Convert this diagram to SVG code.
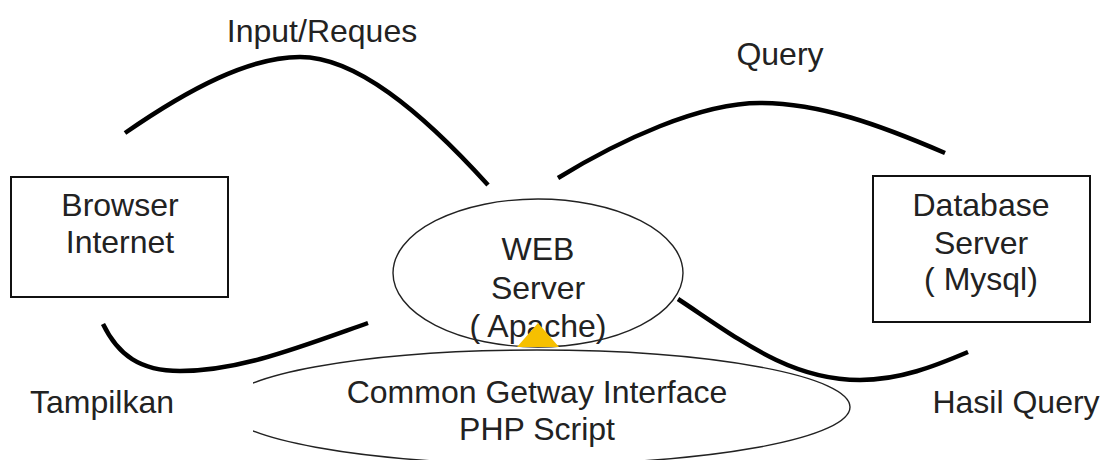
<svg xmlns="http://www.w3.org/2000/svg" width="1108" height="460" viewBox="0 0 1108 460">
<defs>
<style>
.t{font-family:"Liberation Sans",Arial,sans-serif;font-size:32px;fill:#222;text-anchor:middle}
.box{fill:#fff;stroke:#111;stroke-width:2}
.ell{fill:#fff;stroke:#222;stroke-width:1.4}
.con{fill:none;stroke:#000;stroke-width:4.5;stroke-linecap:butt}
</style>
<clipPath id="cgiClip"><rect x="253" y="0" width="855" height="460"/></clipPath>
</defs>
<rect width="1108" height="460" fill="#fff"/>

<g id="browser">
<rect class="box" x="11" y="177" width="217" height="120"/>
<text class="t" x="120" y="216">Browser</text>
<text class="t" x="120" y="253">Internet</text>
</g>

<g id="database">
<rect class="box" x="873" y="176" width="217" height="146"/>
<text class="t" x="981" y="216">Database</text>
<text class="t" x="981" y="254">Server</text>
<text class="t" x="981" y="290">( Mysql)</text>
</g>

<g id="webserver">
<ellipse class="ell" cx="538" cy="273" rx="145" ry="74"/>
<text class="t" x="538" y="260">WEB</text>
<text class="t" x="538" y="299">Server</text>
<text class="t" x="538" y="337">( Apache)</text>
</g>

<g id="cgi">
<ellipse class="ell" cx="537" cy="407" rx="313" ry="57" style="fill:none" clip-path="url(#cgiClip)"/>
<text class="t" x="537" y="403">Common Getway Interface</text>
<text class="t" x="537" y="440">PHP Script</text>
</g>

<g id="link-marker">
<polygon points="538,323 517,347 559,347" fill="#f6c000"/>
</g>

<g id="connectors">
<path class="con" d="M125,133 C190,88 250,57 300,57 C355,57 420,110 488,185"/>
<path class="con" d="M558,178 C620,140 700,103 760,103 C820,103 880,125 945,153"/>
<path class="con" d="M103,324 C118,355 140,371 180,371 C240,371 300,347 368,323"/>
<path class="con" d="M678,299 C740,340 790,380 860,380 C900,380 935,366 968,352"/>
</g>

<g id="labels">
<text class="t" x="322" y="42">Input/Reques</text>
<text class="t" x="780" y="65">Query</text>
<text class="t" x="102" y="413">Tampilkan</text>
<text class="t" x="1016" y="413">Hasil Query</text>
</g>
</svg>
